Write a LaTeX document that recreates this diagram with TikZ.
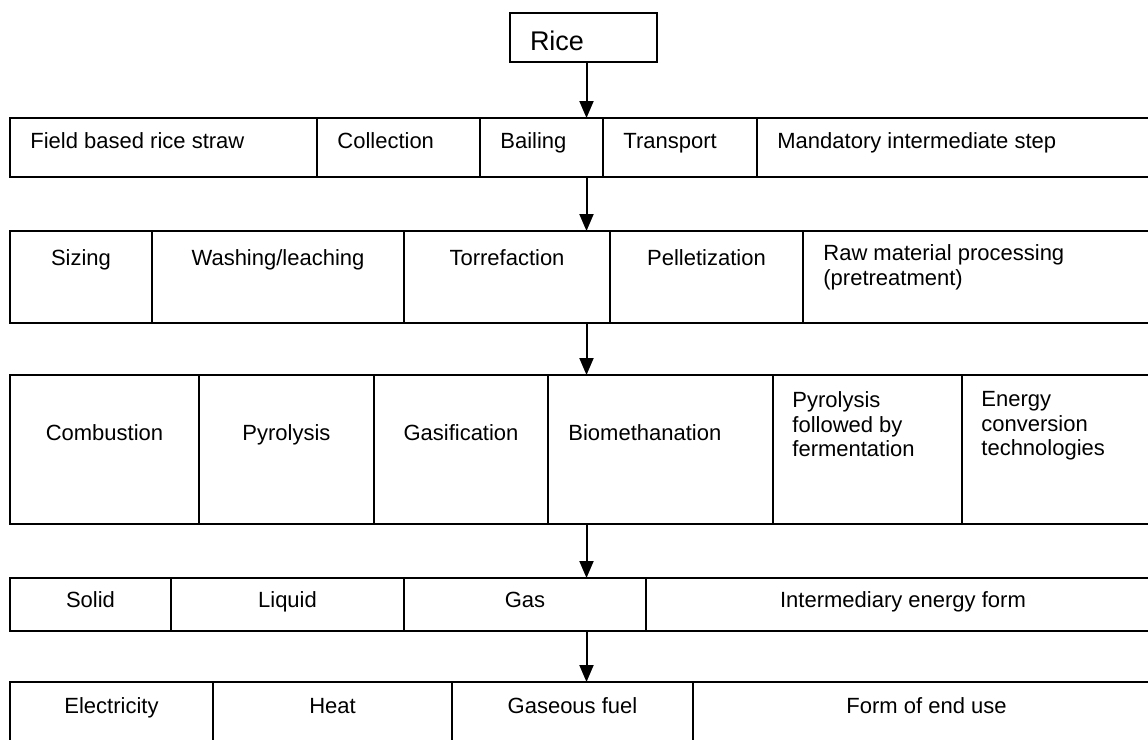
\documentclass[tikz,border=0pt]{standalone}
\usepackage{fontspec}
\setmainfont{Liberation Sans}
\usetikzlibrary{positioning, arrows.meta}

\begin{document}
\begin{tikzpicture}[
    x=1pt, y=1pt,
    cell/.style={draw, line width=1pt, inner sep=0pt, outer sep=0pt},
    rowA/.style={cell, minimum height=29.5pt},
    rowB/.style={cell, minimum height=46pt},
    rowC/.style={cell, minimum height=74.5pt},
    rowD/.style={cell, minimum height=26.5pt},
    rowE/.style={cell, minimum height=40pt},
    txt/.style={inner sep=0pt, font=\fontsize{11}{12.25}\selectfont},
    arrow/.style={-{Triangle[width=7pt, length=8.5pt]}, line width=1pt}
]
    \clip (0,0) rectangle (574,-370);

    % Source
    \node[cell, minimum width=73.5pt, minimum height=24.5pt, text width=53.5pt, inner xsep=10pt,
          text height=13.2pt, text depth=0pt, align=left, font=\fontsize{13.5}{16}\selectfont]
          (rice) at (291.75,-18.75) {Rice};

    % Mandatory intermediate step
    \node[rowA, minimum width=153.5pt, anchor=north west] (straw) at (5,-59) {};
    \node[rowA, minimum width=81.5pt, right=0pt of straw] (collect) {};
    \node[rowA, minimum width=61.5pt, right=0pt of collect] (bail) {};
    \node[rowA, minimum width=77pt, right=0pt of bail] (transport) {};
    \node[rowA, minimum width=201.5pt, right=0pt of transport] (intermed) {};
    \node[txt, anchor=base west] (tstraw) at ([shift={(10pt,-15pt)}]straw.north west) {Field based rice straw};
    \node[txt, anchor=base west] (tcollect) at ([shift={(10pt,-15pt)}]collect.north west) {Collection};
    \node[txt, anchor=base west] (tbail) at ([shift={(10pt,-15pt)}]bail.north west) {Bailing};
    \node[txt, anchor=base west] (ttransport) at ([shift={(10pt,-15pt)}]transport.north west) {Transport};
    \node[txt, anchor=base west] (tintermed) at ([shift={(10pt,-15pt)}]intermed.north west) {Mandatory intermediate step};

    % Raw material processing
    \node[rowB, minimum width=71pt, anchor=north west] (sizing) at (5,-115.5) {};
    \node[rowB, minimum width=126pt, right=0pt of sizing] (washing) {};
    \node[rowB, minimum width=103pt, right=0pt of washing] (torref) {};
    \node[rowB, minimum width=96.5pt, right=0pt of torref] (pellet) {};
    \node[rowB, minimum width=178.5pt, right=0pt of pellet] (pretreat) {};
    \node[txt, anchor=base] (tsizing) at ([yshift=-17pt]sizing.north) {Sizing};
    \node[txt, anchor=base] (twashing) at ([yshift=-17pt]washing.north) {Washing/leaching};
    \node[txt, anchor=base] (ttorref) at ([yshift=-17pt]torref.north) {Torrefaction};
    \node[txt, anchor=base] (tpellet) at ([yshift=-17pt]pellet.north) {Pelletization};
    \node[txt, anchor=north west, align=left] (tpretreat) at ([shift={(10pt,-6.6pt)}]pretreat.north west)
        {Raw material processing\\(pretreatment)};

    % Energy conversion technologies
    \node[rowC, minimum width=94.5pt, anchor=north west] (combust) at (5,-187.5) {};
    \node[rowC, minimum width=87.5pt, right=0pt of combust] (pyro) {};
    \node[rowC, minimum width=87pt, right=0pt of pyro] (gasif) {};
    \node[rowC, minimum width=112.5pt, right=0pt of gasif] (biometh) {};
    \node[rowC, minimum width=94.5pt, right=0pt of biometh] (pyroferm) {};
    \node[rowC, minimum width=99pt, right=0pt of pyroferm] (convtech) {};
    \node[txt, anchor=base] (tcombust) at ([yshift=-32.5pt]combust.north) {Combustion};
    \node[txt, anchor=base] (tpyro) at ([yshift=-32.5pt]pyro.north) {Pyrolysis};
    \node[txt, anchor=base] (tgasif) at ([yshift=-32.5pt]gasif.north) {Gasification};
    \node[txt, anchor=base west] (tbiometh) at ([shift={(10pt,-32.5pt)}]biometh.north west) {Biomethanation};
    \node[txt, anchor=north west, align=left] (tpyroferm) at ([shift={(9.5pt,-8.1pt)}]pyroferm.north west)
        {Pyrolysis\\followed by\\fermentation};
    \node[txt, anchor=north west, align=left] (tconvtech) at ([shift={(9.5pt,-8.1pt)}]convtech.north west)
        {Energy\\conversion\\technologies};

    % Intermediary energy form
    \node[rowD, minimum width=80.5pt, anchor=north west] (solid) at (5,-289) {};
    \node[rowD, minimum width=116.5pt, right=0pt of solid] (liquid) {};
    \node[rowD, minimum width=121pt, right=0pt of liquid] (gas) {};
    \node[rowD, minimum width=257pt, right=0pt of gas] (interform) {};
    \node[txt, anchor=base] (tsolid) at ([yshift=-14.5pt]solid.north) {Solid};
    \node[txt, anchor=base] (tliquid) at ([yshift=-14.5pt]liquid.north) {Liquid};
    \node[txt, anchor=base] (tgas) at ([yshift=-14.5pt]gas.north) {Gas};
    \node[txt, anchor=base] (tinterform) at ([yshift=-14.5pt]interform.north) {Intermediary energy form};

    % Form of end use
    \node[rowE, minimum width=101.5pt, anchor=north west] (elec) at (5,-341) {};
    \node[rowE, minimum width=119.5pt, right=0pt of elec] (heat) {};
    \node[rowE, minimum width=120.5pt, right=0pt of heat] (gasfuel) {};
    \node[rowE, minimum width=233.5pt, right=0pt of gasfuel] (enduse) {};
    \node[txt, anchor=base] (telec) at ([yshift=-15.5pt]elec.north) {Electricity};
    \node[txt, anchor=base] (theat) at ([yshift=-15.5pt]heat.north) {Heat};
    \node[txt, anchor=base] (tgasfuel) at ([yshift=-15.5pt]gasfuel.north) {Gaseous fuel};
    \node[txt, anchor=base] (tenduse) at ([yshift=-15.5pt]enduse.north) {Form of end use};

    % Flow
    \coordinate (spine) at ([xshift=1.5pt]rice.south);
    \draw[arrow] (spine) -- (spine |- bail.north);
    \draw[arrow] (bail.south -| spine) -- (torref.north -| spine);
    \draw[arrow] (torref.south -| spine) -- (biometh.north -| spine);
    \draw[arrow] (biometh.south -| spine) -- (gas.north -| spine);
    \draw[arrow] (gas.south -| spine) -- (gasfuel.north -| spine);
\end{tikzpicture}
\end{document}
